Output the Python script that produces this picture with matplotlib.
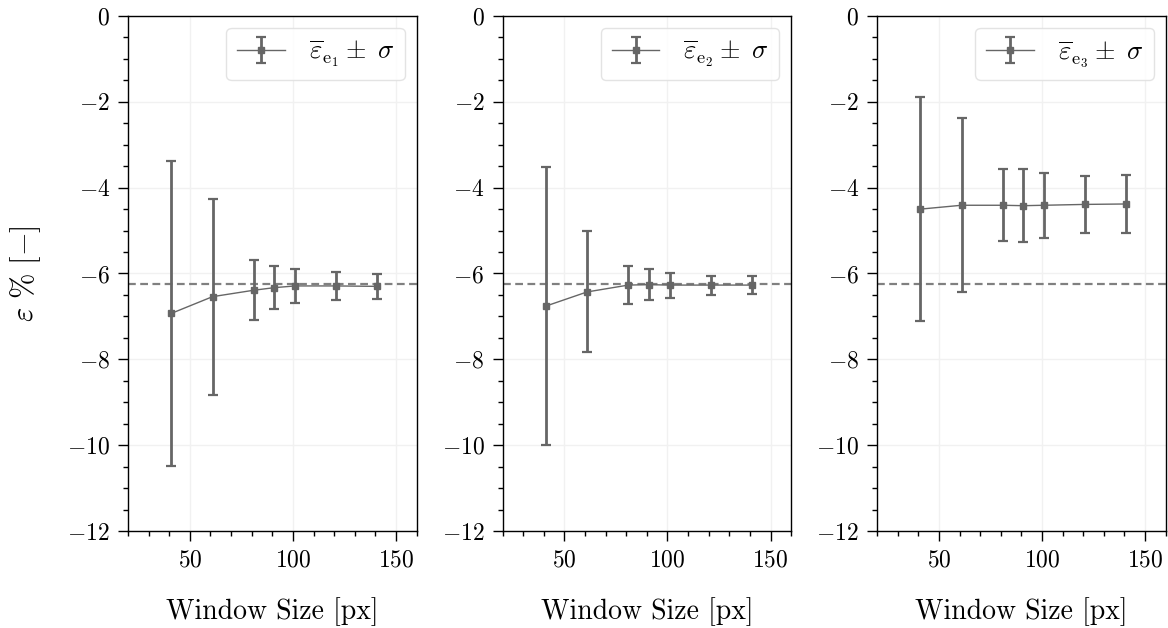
import matplotlib
matplotlib.use("Agg")
import matplotlib.pyplot as plt
from matplotlib.ticker import MultipleLocator

plt.rcParams.update({
    "font.family": "serif",
    "font.serif": ["cmr10"],
    "mathtext.fontset": "cm",
    "axes.formatter.use_mathtext": True,
    "axes.unicode_minus": True,
})

# Window sizes in pixels
window_px = [41, 61, 81, 91, 101, 121, 141]

# Mean strain (%) and standard deviation for each evaluation
mean_e1 = [-6.93, -6.54, -6.39, -6.33, -6.29, -6.29, -6.30]
std_e1 = [3.56, 2.28, 0.70, 0.50, 0.40, 0.33, 0.29]

mean_e2 = [-6.76, -6.43, -6.27, -6.26, -6.27, -6.27, -6.27]
std_e2 = [3.23, 1.41, 0.45, 0.36, 0.29, 0.22, 0.20]

mean_e3 = [-4.50, -4.41, -4.41, -4.42, -4.41, -4.39, -4.38]
std_e3 = [2.61, 2.03, 0.84, 0.85, 0.76, 0.67, 0.67]

reference_strain = -6.25

series = [
    (mean_e1, std_e1, r"$\overline{\varepsilon}_{\mathrm{e}_1} \pm\; \sigma$"),
    (mean_e2, std_e2, r"$\overline{\varepsilon}_{\mathrm{e}_2} \pm\; \sigma$"),
    (mean_e3, std_e3, r"$\overline{\varepsilon}_{\mathrm{e}_3} \pm\; \sigma$"),
]

fig, axes = plt.subplots(1, 3, figsize=(11.68, 6.28), dpi=100)
fig.subplots_adjust(left=0.1096, right=0.998, top=0.9745, bottom=0.1545, wspace=0.2976)

line_color = "#666666"

for ax, (mean, std, label) in zip(axes, series):
    ax.errorbar(window_px, mean, yerr=std, color=line_color, marker="s",
                markersize=4.2, linewidth=1.0, elinewidth=2.0, capsize=3.5,
                capthick=1.6, label=label, zorder=3)
    ax.axhline(reference_strain, color="#808080", linestyle="--",
               linewidth=1.6, dashes=(3.5, 2), zorder=2)

    ax.set_xlim(20, 160)
    ax.set_ylim(-12, 0)
    ax.xaxis.set_major_locator(MultipleLocator(50))
    ax.xaxis.set_minor_locator(MultipleLocator(10))
    ax.yaxis.set_major_locator(MultipleLocator(2))
    ax.yaxis.set_minor_locator(MultipleLocator(0.5))
    ax.tick_params(axis="both", which="major", direction="out", length=7,
                   width=1.0, labelsize=17, pad=6)
    ax.tick_params(axis="both", which="minor", direction="out", length=3.5,
                   width=1.0)
    ax.grid(True, which="major", color="#f1f1f1", linewidth=1.0, zorder=0)
    ax.set_axisbelow(True)
    for spine in ax.spines.values():
        spine.set_linewidth(1.0)

    ax.set_xlabel("Window Size [px]", fontsize=20, labelpad=19)
    leg = ax.legend(loc="upper right", fontsize=19, frameon=True,
                    fancybox=True, borderpad=0.42, handlelength=1.8,
                    handletextpad=0.9, borderaxespad=0.45)
    leg.get_frame().set_edgecolor("#dddddd")
    leg.get_frame().set_linewidth(1.0)

axes[0].set_ylabel(r"$\varepsilon\ \%\ [-]$", fontsize=22, labelpad=17)

fig.savefig("out.png", dpi=100)
